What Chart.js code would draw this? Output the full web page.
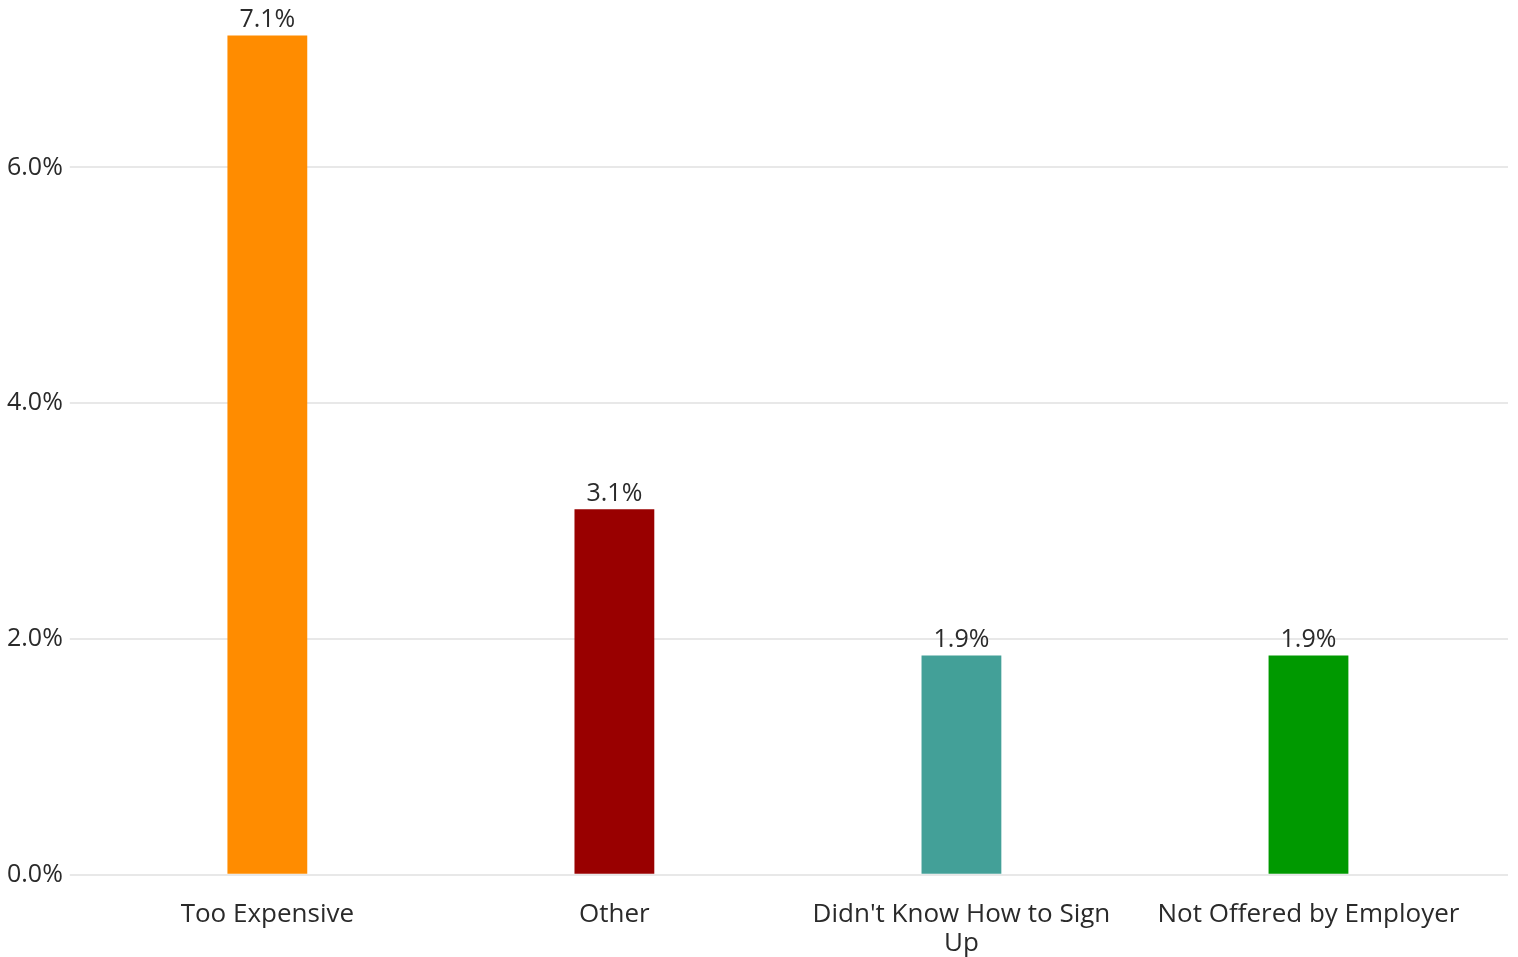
<html>
<head>
    <title>Reasons</title>
    <meta charset="utf-8">
    <script src="https://cdn.jsdelivr.net/npm/chart.js@4.4.1/dist/chart.umd.min.js"></script>
    <style>
        html, body { margin: 0; padding: 0; background: #fff; }
        #wrap { width: 1518px; height: 957px; }
    </style>
</head>
<body>
    <div id="wrap"><canvas id="chart"></canvas></div>
    <script>
        // data
        const categories = ['Too Expensive', 'Other', "Didn't Know How to Sign Up", 'Not Offered by Employer'];
        const shares = [7.12, 3.1, 1.86, 1.86];
        const valueLabels = ['7.1%', '3.1%', '1.9%', '1.9%'];
        const barColors = ['#ff8c00', '#990000', '#43a098', '#009900'];
        const yTicks = [0, 2, 4, 6];

        const textColor = '#2a2a2a';
        const gridColor = '#e8e8e8';
        const fontFamily = '"Open Sans", "Noto Sans", sans-serif';
        const yMax = 7.255;

        /* wrap long category names onto two lines */
        function wrapLabel(text, maxChars) {
            const words = text.split(' ');
            const lines = [];
            let line = '';
            for (const w of words) {
                const next = line ? line + ' ' + w : w;
                if (next.length > maxChars && line) {
                    lines.push(line);
                    line = w;
                } else {
                    line = next;
                }
            }
            if (line) lines.push(line);
            return lines.length > 1 ? lines : lines[0];
        }

        const valueLabelPlugin = {
            id: 'valueLabels',
            afterDatasetsDraw(chart) {
                const ctx = chart.ctx;
                const meta = chart.getDatasetMeta(0);
                ctx.save();
                ctx.font = '25px ' + fontFamily;
                ctx.fillStyle = textColor;
                ctx.textAlign = 'center';
                ctx.textBaseline = 'alphabetic';
                meta.data.forEach(function (bar, i) {
                    ctx.fillText(valueLabels[i], bar.x, bar.y - 8);
                });
                ctx.restore();
            }
        };

        const fixTicks = function (scale) {
            scale.ticks = yTicks.map(function (v) { return { value: v }; });
        };

        new Chart(document.getElementById('chart'), {
            type: 'bar',
            data: {
                labels: categories.map(function (c) { return wrapLabel(c, 23); }),
                datasets: [{
                    data: shares,
                    backgroundColor: barColors,
                    borderWidth: 0,
                    barPercentage: 0.92,
                    categoryPercentage: 0.25
                }]
            },
            options: {
                responsive: true,
                maintainAspectRatio: false,
                animation: false,
                layout: { padding: { left: 0, right: 10, top: 2, bottom: -26 } },
                plugins: {
                    legend: { display: false },
                    tooltip: { enabled: false }
                },
                scales: {
                    x: {
                        grid: { display: false, drawTicks: false },
                        border: { display: false },
                        ticks: {
                            color: textColor,
                            font: { family: fontFamily, size: 26, lineHeight: 1.12 },
                            padding: 25,
                            maxRotation: 0,
                            autoSkip: false
                        }
                    },
                    y: {
                        position: 'left',
                        min: 0,
                        max: yMax,
                        afterBuildTicks: fixTicks,
                        border: { display: false },
                        grid: { color: gridColor, lineWidth: 2, tickLength: 24, tickColor: gridColor },
                        ticks: {
                            color: textColor,
                            font: { family: fontFamily, size: 25, lineHeight: 1 },
                            padding: 7,
                            callback: function (v) { return v.toFixed(1) + '%'; }
                        }
                    },
                    yRight: {
                        position: 'right',
                        min: 0,
                        max: yMax,
                        afterBuildTicks: fixTicks,
                        border: { display: false },
                        grid: { drawOnChartArea: false, color: gridColor, lineWidth: 2, tickLength: 26, tickColor: gridColor },
                        ticks: { display: false }
                    }
                }
            },
            plugins: [valueLabelPlugin]
        });
    </script>
</body>
</html>
